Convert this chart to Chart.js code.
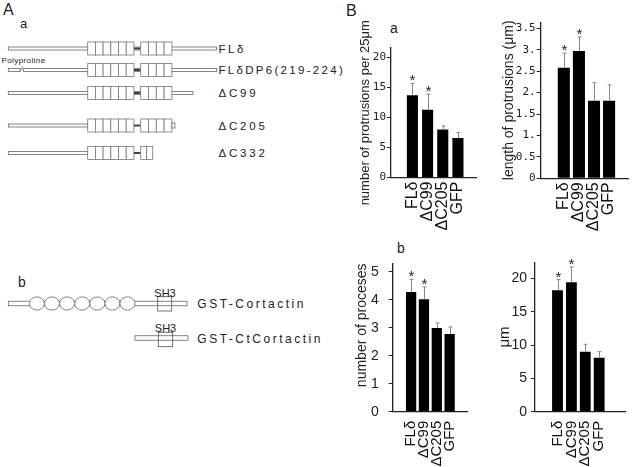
<!DOCTYPE html>
<html lang="en">
<head>
<meta charset="UTF-8" />
<title>Cortactin constructs and protrusions</title>
<script src="https://cdn.jsdelivr.net/npm/chart.js@4"></script>
<style>
  html, body { margin: 0; padding: 0; background: #fff; }
  body { width: 640px; height: 467px; position: relative; overflow: hidden;
         font-family: 'Liberation Sans', Arial, sans-serif; color: #222; }
  canvas, svg, .panel { position: absolute; }
  .panel { line-height: 1; }
</style>
</head>
<body>
<svg id="schema" width="640" height="467" style="left:0;top:0"></svg>

<div class="panel" style="left:3px;top:2px;font-size:16px">A</div>
<div class="panel" style="left:20px;top:17px;font-size:13px">a</div>
<div class="panel" style="left:18px;top:275px;font-size:14px">b</div>
<div class="panel" style="left:346px;top:3px;font-size:16px">B</div>
<div class="panel" style="left:390px;top:21px;font-size:14px">a</div>
<div class="panel" style="left:397px;top:241px;font-size:14px">b</div>

<canvas id="countChart" width="145" height="248" style="left:340px;top:0"></canvas>
<canvas id="lengthChart" width="150" height="248" style="left:490px;top:0"></canvas>
<canvas id="processChart" width="140" height="222" style="left:340px;top:245px"></canvas>
<canvas id="processLenChart" width="155" height="222" style="left:485px;top:245px"></canvas>

<script>
  // data
  const groups = ['FLδ', 'ΔC99', 'ΔC205', 'GFP'];
  const starred = [true, true, false, false];

  const protrusionCount = [13.7, 11.3, 8.0, 6.6];
  const protrusionCountErr = [2.0, 2.6, 0.6, 0.9];
  const protrusionCountTicks = ['0', '5', '10', '15', '20'];

  const protrusionLength = [2.58, 2.97, 1.81, 1.81];
  const protrusionLengthErr = [0.34, 0.33, 0.42, 0.37];
  const protrusionLengthTicks = ['0', '0.5', '1.', '1.5', '2.', '2.5', '3.', '3.5'];

  const processCount = [4.28, 4.02, 2.99, 2.78];
  const processCountErr = [0.45, 0.44, 0.18, 0.25];
  const processCountTicks = ['0', '1', '2', '3', '4', '5'];

  const processLength = [18.2, 19.4, 9.0, 8.1];
  const processLengthErr = [1.6, 2.3, 1.1, 0.9];
  const processLengthTicks = ['0', '5', '10', '15', '20'];

  // ---- schematic (panel A) ----
  const svg = document.getElementById('schema');
  let s = '';
  function rod(x1, x2, y, h) {
    s += `<rect x="${x1}" y="${y - h / 2}" width="${x2 - x1}" height="${h}" fill="#fff" stroke="#666" stroke-width="0.8"/>`;
  }
  function cells(x, y, w, n) {
    for (let i = 0; i < n; i++)
      s += `<rect x="${x + i * w}" y="${y - 6.5}" width="${w}" height="13" fill="#fff" stroke="#777" stroke-width="0.8"/>`;
  }
  function link(x1, x2, y) {
    s += `<line x1="${x1}" x2="${x2}" y1="${y}" y2="${y}" stroke="#444" stroke-width="2"/>`;
  }
  function label(x, y, t, size, sp) {
    s += `<text x="${x}" y="${y}" font-size="${size}" letter-spacing="${sp}" fill="#222" font-family="Liberation Sans, Arial, sans-serif">${t}</text>`;
  }
  function domains(y, second) {
    cells(87.7, y, 7.7, 6);
    link(134, 140.7, y);
    if (second === 4) cells(140.7, y, 7.8, 4);
    else cells(140.7, y, 6, 2);
  }

  rod(8.3, 216.7, 48.5, 3); domains(48.5, 4); label(218.5, 52.5, 'FLδ', 11.5, 2.6);

  rod(8.3, 20, 70, 3);
  s += '<path d="M20 71.5 L22.7 66.5" stroke="#555" stroke-width="0.8" fill="none"/>';
  rod(23.3, 216.7, 70, 3); domains(70, 4); label(218.5, 74, 'FLδDP6(219-224)', 11.5, 2.3);
  label(1.5, 63, 'Polyproline', 8, 0.4);

  rod(8.3, 193, 93, 3); domains(93, 4); label(218.5, 97, 'ΔC99', 11.5, 2.8);

  rod(8.3, 87.7, 125.5, 3); domains(125.5, 4);
  s += '<rect x="171.9" y="123" width="3" height="5" fill="#fff" stroke="#666" stroke-width="0.8"/>';
  label(218.5, 129.5, 'ΔC205', 11.5, 2.8);

  rod(8.3, 87.7, 153, 3); domains(153, 2); label(218.5, 157, 'ΔC332', 11.5, 2.8);

  rod(8.3, 187, 303.5, 4.5);
  for (let i = 0; i < 7; i++)
    s += `<ellipse cx="${36.9 + 15.1 * i}" cy="303.5" rx="7.55" ry="6.6" fill="#fff" stroke="#666" stroke-width="0.8"/>`;
  s += '<rect x="157.7" y="296.7" width="14" height="14.3" fill="none" stroke="#555" stroke-width="0.8"/>';
  s += '<text x="165" y="296.5" font-size="11" text-anchor="middle" fill="#222" font-family="Liberation Sans, Arial, sans-serif">SH3</text>';
  label(197.3, 308, 'GST-Cortactin', 12, 2.5);

  rod(135, 188, 338, 4.5);
  s += '<rect x="158.3" y="332.3" width="14.4" height="14.4" fill="none" stroke="#555" stroke-width="0.8"/>';
  s += '<text x="165.5" y="331.5" font-size="11" text-anchor="middle" fill="#222" font-family="Liberation Sans, Arial, sans-serif">SH3</text>';
  label(197.3, 342.5, 'GST-CtCortactin', 12, 2.5);

  svg.innerHTML = s;

  // ---- bar charts (panel B) ----
  Chart.defaults.font.family = "'Liberation Sans', Arial, sans-serif";
  Chart.defaults.color = '#222';

  const errorBars = {
    id: 'errorBars',
    afterDatasetsDraw(chart) {
      const ctx = chart.ctx;
      const yScale = chart.scales.y;
      const ds = chart.data.datasets[0];
      chart.getDatasetMeta(0).data.forEach((bar, i) => {
        const x = Math.round(bar.x) + 0.5;
        const top = yScale.getPixelForValue(ds.data[i].y + ds.errors[i]);
        ctx.save();
        ctx.strokeStyle = '#888';
        ctx.lineWidth = 1;
        ctx.beginPath();
        ctx.moveTo(x, bar.y);
        ctx.lineTo(x, top);
        ctx.moveTo(x - 2, top);
        ctx.lineTo(x + 2, top);
        ctx.stroke();
        if (ds.marks[i]) {
          ctx.fillStyle = '#222';
          ctx.font = "15px 'Liberation Sans', Arial, sans-serif";
          ctx.textAlign = 'center';
          ctx.textBaseline = 'alphabetic';
          ctx.fillText('*', x, top + 2);
        }
        ctx.restore();
      });
    }
  };

  function makeChart(id, o) {
    return new Chart(document.getElementById(id), {
      type: 'bar',
      data: {
        datasets: [{
          data: o.values.map((v, i) => ({ x: i, y: v })),
          errors: o.errors,
          marks: starred,
          backgroundColor: '#000',
          barPercentage: o.barPct,
          categoryPercentage: 1
        }]
      },
      options: {
        responsive: false,
        devicePixelRatio: 1,
        animation: false,
        layout: { padding: o.pad },
        plugins: { legend: { display: false }, tooltip: { enabled: false } },
        scales: {
          x: {
            type: 'linear',
            min: o.xMin,
            max: o.xMax,
            grid: { display: false, drawTicks: false },
            border: { color: '#222', width: 1.3 },
            afterBuildTicks: sc => { sc.ticks = groups.map((_, i) => ({ value: i })); },
            afterFit: sc => { sc.height = o.xHeight; },
            ticks: {
              autoSkip: false, minRotation: 90, maxRotation: 90,
              padding: o.xPad, color: '#111', font: { size: o.xFont },
              callback: (v, i) => groups[i]
            }
          },
          y: {
            min: 0,
            max: o.yMax,
            afterBuildTicks: sc => { sc.ticks = o.yLabels.map((_, i) => ({ value: i * o.step })); },
            afterFit: sc => { sc.width = o.yWidth; },
            grid: { drawOnChartArea: false, tickLength: 4, color: '#222' },
            border: { color: '#222', width: 1.3 },
            ticks: { padding: o.yPad, font: o.yFont, color: '#222', callback: (v, i) => o.yLabels[i] },
            title: {
              display: true, text: o.title, color: '#222',
              align: o.titleAlign || 'center',
              font: { size: o.titleSize },
              padding: { top: o.titlePad, bottom: 0 }
            }
          }
        }
      },
      plugins: [errorBars]
    });
  }

  const monoTicks = { family: "'DejaVu Sans Mono', monospace", size: 11 };
  const sansTicks = { size: 14 };

  makeChart('countChart', {
    values: protrusionCount, errors: protrusionCountErr,
    yLabels: protrusionCountTicks, step: 5, yMax: 21.6,
    title: 'number of protrusions per 25μm', titleSize: 13, titlePad: 18,
    pad: { top: 48, right: 9, left: 0, bottom: 0 },
    yWidth: 51, xHeight: 70.5, xMin: -0.71, xMax: 3.49, barPct: 0.73,
    yPad: 1, yFont: monoTicks, xPad: 4, xFont: 16
  });

  makeChart('lengthChart', {
    values: protrusionLength, errors: protrusionLengthErr,
    yLabels: protrusionLengthTicks, step: 0.5, yMax: 3.64,
    title: 'length of protrusions (μm)', titleSize: 14, titlePad: 10.5,
    pad: { top: 22.3, right: 12, left: 0, bottom: 0 },
    yWidth: 50.7, xHeight: 69.7, xMin: -0.81, xMax: 3.53, barPct: 0.8,
    yPad: 1, yFont: monoTicks, xPad: 4, xFont: 16
  });

  makeChart('processChart', {
    values: processCount, errors: processCountErr,
    yLabels: processCountTicks, step: 1, yMax: 5.3,
    title: 'number of proceses', titleSize: 14, titlePad: 13.5, titleAlign: 'end',
    pad: { top: 16.7, right: 13, left: 0, bottom: 0 },
    yWidth: 52.7, xHeight: 55.3, xMin: -0.71, xMax: 3.63, barPct: 0.8,
    yPad: 10, yFont: sansTicks, xPad: 9, xFont: 15
  });

  makeChart('processLenChart', {
    values: processLength, errors: processLengthErr,
    yLabels: processLengthTicks, step: 5, yMax: 22.4,
    title: 'μm', titleSize: 15, titlePad: 11,
    pad: { top: 17.3, right: 15, left: 0, bottom: 0 },
    yWidth: 50, xHeight: 55.3, xMin: -0.81, xMax: 4.05, barPct: 0.78,
    yPad: 4, yFont: sansTicks, xPad: 9, xFont: 15
  });
</script>
</body>
</html>
